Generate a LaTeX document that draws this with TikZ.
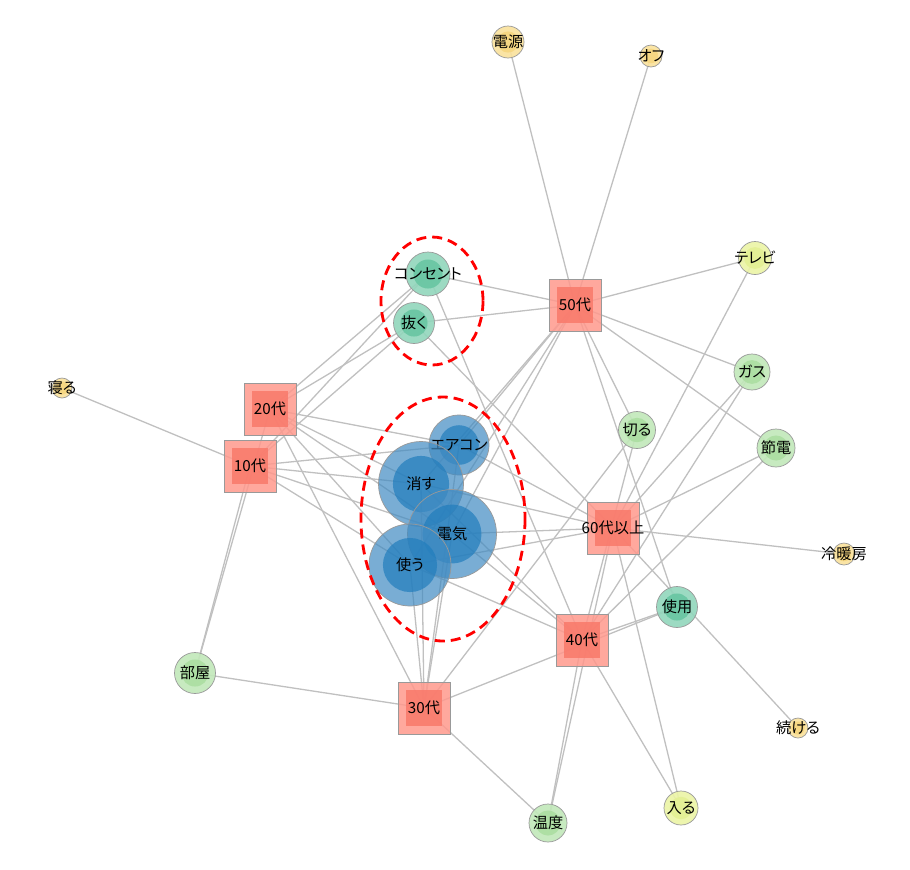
\documentclass[tikz,border=0pt]{standalone}
\usepackage{fontspec}
\newfontfamily\jpfont[RawFeature=+palt]{Noto Sans CJK JP}
\usetikzlibrary{calc,backgrounds}
\definecolor{EdgeGray}{RGB}{192,192,192}
\definecolor{SqOuter}{RGB}{255,153,141}
\definecolor{SqInner}{RGB}{249,121,106}
\definecolor{BlueOuter}{RGB}{65,139,194}
\definecolor{BlueInner}{RGB}{33,125,189}
\definecolor{TealOuter}{RGB}{146,214,188}
\definecolor{TealInner}{RGB}{104,198,162}
\definecolor{GreenOuter}{RGB}{194,232,186}
\definecolor{GreenInner}{RGB}{172,222,162}
\definecolor{YelOuter}{RGB}{250,226,156}
\definecolor{YelInner}{RGB}{246,214,128}
\definecolor{LimeOuter}{RGB}{236,244,166}
\definecolor{LimeInner}{RGB}{228,240,148}
\tikzset{
  wnode/.style={circle, draw=gray!80, line width=0.6pt, inner sep=0pt, minimum size=#1*0.3mm, fill opacity=0.9},
  core/.style={path picture={\fill[#1] let \p1=(path picture bounding box.south west),
    \p2=(path picture bounding box.north east) in (path picture bounding box.center) circle ({0.33*(\x2-\x1)});}},
  bluew/.style={wnode=#1, fill=BlueOuter, core=BlueInner, fill opacity=0.7},
  tealw/.style={wnode=#1, fill=TealOuter, core=TealInner},
  greenw/.style={wnode=#1, fill=GreenOuter, core=GreenInner},
  yelw/.style={wnode=#1, fill=YelOuter, core=YelInner},
  limew/.style={wnode=#1, fill=LimeOuter, core=LimeInner},
  agebox/.style={rectangle, draw=gray!80, line width=0.6pt, fill=SqOuter, fill opacity=0.85,
    minimum size=52*0.3mm, inner sep=0pt,
    path picture={\fill[SqInner] ([shift={(-5.4mm,-5.4mm)}]path picture bounding box.center) rectangle ++(10.8mm,10.8mm);}},
  link/.style={draw=EdgeGray, line width=1.1pt},
  hilite/.style={draw=red, line width=2.4pt, dash pattern=on 3mm off 1.8mm},
  every label/.style={font=\jpfont\fontsize{13}{14}\selectfont, text=black, text opacity=1, inner sep=0pt},
}

\begin{document}
\begin{tikzpicture}[x=0.3mm, y=-0.3mm]
  \useasboundingbox (0,0) rectangle (910,869);
  % age groups
  \node[agebox, label={center:50代}] (a50) at (575,305) {};
  \node[agebox, label={center:20代}] (a20) at (270,409) {};
  \node[agebox, label={center:10代}] (a10) at (250,466) {};
  \node[agebox, label={center:60代以上}] (a60) at (613,528) {};
  \node[agebox, label={center:40代}] (a40) at (582,640) {};
  \node[agebox, label={center:30代}] (a30) at (424,708) {};
  % words
  \node[yelw=32, label={center:電源}] (dengen) at (508,42) {};
  \node[yelw=22, label={center:オフ}] (off) at (651,56) {};
  \node[limew=33, label={center:テレビ}] (tv) at (755,258) {};
  \node[tealw=44, label={center:コンセント}] (consent) at (428,274) {};
  \node[tealw=41, label={center:抜く}] (nuku) at (414,323) {};
  \node[yelw=20, label={center:寝る}] (neru) at (62,388) {};
  \node[greenw=36, label={center:ガス}] (gas) at (752,372) {};
  \node[greenw=37, label={center:切る}] (kiru) at (637,430) {};
  \node[greenw=38, label={center:節電}] (setsuden) at (776,448) {};
  \node[bluew=60, label={center:エアコン}] (eakon) at (459,445) {};
  \node[bluew=85, label={center:消す}] (kesu) at (421,484) {};
  \node[bluew=89, label={center:電気}] (denki) at (452,534) {};
  \node[bluew=82, label={center:使う}] (tsukau) at (410,565) {};
  \node[yelw=22, label={center:冷暖房}] (reidan) at (844,554) {};
  \node[tealw=41, label={center:使用}] (shiyou) at (677,607) {};
  \node[greenw=41, label={center:部屋}] (heya) at (195,673) {};
  \node[yelw=20, label={center:続ける}] (tsuzuke) at (798,728) {};
  \node[limew=34, label={center:入る}] (hairu) at (681,808) {};
  \node[greenw=38, label={center:温度}] (ondo) at (548,823) {};
  % co-occurrence edges
  \begin{pgfonlayer}{background}
    \fill[white] (0,0) rectangle (910,869);
    \foreach \a/\b in {a50/dengen, a50/off, a50/tv, a50/gas, a50/setsuden, a50/kiru, a50/shiyou,
      a50/consent, a50/nuku, a50/eakon, a50/kesu, a50/denki, a50/tsukau,
      a60/tv, a60/gas, a60/setsuden, a60/reidan, a60/tsuzuke, a60/hairu, a60/ondo, a60/nuku,
      a60/eakon, a60/kesu, a60/denki, a60/tsukau,
      a40/gas, a40/setsuden, a40/kiru, a40/shiyou, a40/hairu, a40/ondo, a40/consent,
      a40/denki, a40/tsukau, a40/kesu,
      a30/kiru, a30/shiyou, a30/ondo, a30/heya, a30/tsukau, a30/denki, a30/kesu, a30/eakon, a30/a20,
      a20/heya, a20/consent, a20/nuku, a20/eakon, a20/kesu, a20/denki, a20/tsukau,
      a10/neru, a10/heya, a10/consent, a10/nuku, a10/eakon, a10/kesu, a10/denki, a10/tsukau}
      \draw[link] (\a.center) -- (\b.center);
  \end{pgfonlayer}
  % clusters
  \draw[hilite] (432,301) ellipse [x radius=51, y radius=64];
  \draw[hilite] (443,519) ellipse [x radius=82, y radius=122];
\end{tikzpicture}
\end{document}
